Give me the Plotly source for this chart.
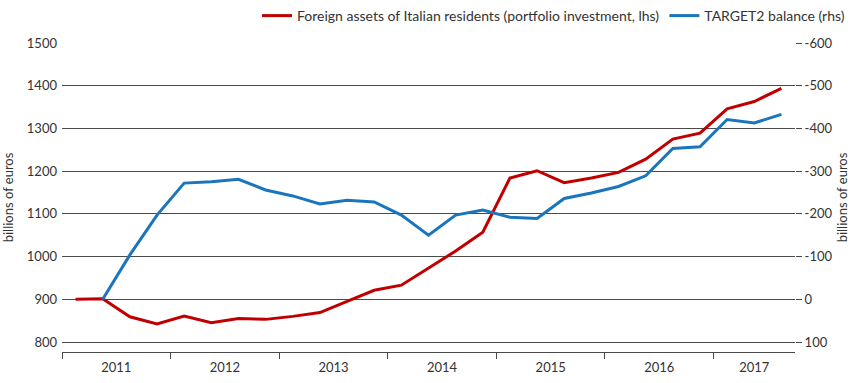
import plotly.graph_objects as go

years = [2011, 2012, 2013, 2014, 2015, 2016, 2017]
quarters = ["2011Q1","2011Q2","2011Q3","2011Q4","2012Q1","2012Q2","2012Q3","2012Q4",
            "2013Q1","2013Q2","2013Q3","2013Q4","2014Q1","2014Q2","2014Q3","2014Q4",
            "2015Q1","2015Q2","2015Q3","2015Q4","2016Q1","2016Q2","2016Q3","2016Q4",
            "2017Q1","2017Q2","2017Q3"]
foreign_assets = [900, 901, 859, 842, 861, 845, 855, 853,
                  860, 869, 895, 921, 933, 972, 1013, 1057,
                  1184, 1201, 1173, 1184, 1197, 1228, 1275, 1289,
                  1346, 1363, 1394]
target2 = [None, 0, -104, -197, -272, -275, -281, -256,
           -242, -223, -232, -228, -197, -150, -197, -209,
           -192, -189, -236, -249, -264, -289, -353, -357,
           -421, -413, -433]
left_ticks = [800, 900, 1000, 1100, 1200, 1300, 1400, 1500]
right_ticks = [100, 0, -100, -200, -300, -400, -500, -600]

def qpos(q):
    return int(q[:4]) + (int(q[-1]) - 0.5) / 4

x = [qpos(q) for q in quarters]
font = "Lato"
txt = "#333333"
fs = 13

fig = go.Figure()
fig.add_trace(go.Scatter(x=x, y=foreign_assets, mode="lines",
                         name="Foreign assets of Italian residents (portfolio investment, lhs)",
                         line=dict(color="#c00000", width=3)))
fig.add_trace(go.Scatter(x=x, y=target2, mode="lines", yaxis="y2",
                         name="TARGET2 balance (rhs)",
                         line=dict(color="#1a75bc", width=3)))
fig.add_trace(go.Scatter(x=[y + 0.5 for y in years], y=[None]*len(years), xaxis="x2",
                         showlegend=False, hoverinfo="skip"))

lo, hi = 776.6, 1500
fig.update_layout(
    width=850, height=383,
    margin=dict(l=62, r=55, t=43, b=31),
    paper_bgcolor="white", plot_bgcolor="white",
    font=dict(family=font, size=fs, color=txt),
    showlegend=True,
    legend=dict(orientation="h", x=1.0, xanchor="right", y=1.0, yanchor="top",
                yref="container", xref="container", font=dict(size=14, color=txt),
                itemwidth=30, tracegroupgap=0, bgcolor="rgba(0,0,0,0)"),
    xaxis=dict(range=[2011, 2017.75], tickvals=years, ticktext=[""]*len(years),
               showgrid=False, zeroline=False, showline=True, linecolor="#4a4a4a",
               linewidth=1, ticks="outside", ticklen=6, tickcolor="#4a4a4a",
               automargin=False),
    xaxis2=dict(range=[2011, 2017.75], overlaying="x", anchor="y",
                tickvals=[2011.5, 2012.5, 2013.5, 2014.5, 2015.5, 2016.5, 2017.375],
                ticktext=[str(y) for y in years], side="bottom",
                showgrid=False, zeroline=False, showline=False, ticks="",
                tickfont=dict(size=fs, color=txt), ticklabelstandoff=6,
                automargin=False),
    yaxis=dict(range=[lo, hi], tickvals=left_ticks,
               ticktext=[str(v) for v in left_ticks],
               showgrid=True, gridcolor="#4a4a4a", gridwidth=1, zeroline=False,
               ticks="", automargin=False, ticklabelstandoff=4,
               title=dict(text="billions of euros", standoff=14,
                          font=dict(size=fs, color=txt))),
    yaxis2=dict(range=[900 - lo, 900 - hi], overlaying="y", side="right",
                tickvals=right_ticks, ticktext=[str(v) for v in right_ticks],
                showgrid=False, zeroline=False, ticks="outside", ticklen=6,
                tickcolor="#4a4a4a", automargin=False,
                title=dict(text="billions of euros", standoff=12,
                           font=dict(size=fs, color=txt))),
)
fig.write_html("out.html", config={"displayModeBar": False},
               post_script="document.body.style.margin='0';")
